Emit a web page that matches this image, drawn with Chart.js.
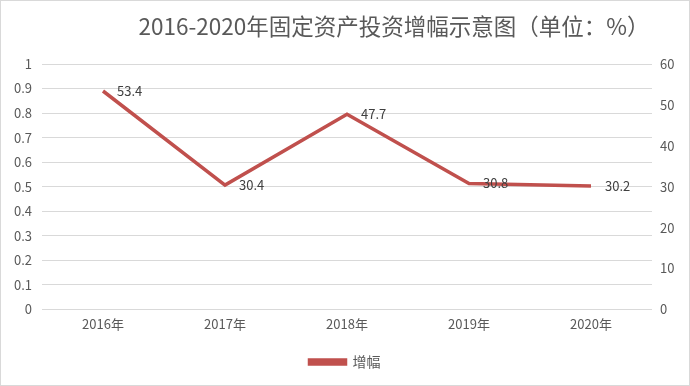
<!DOCTYPE html>
<html>
<head>
<meta charset="utf-8">
<script src="https://cdn.jsdelivr.net/npm/chart.js@4/dist/chart.umd.min.js"></script>
<style>
  body { margin: 0; background: #fff; }
  #wrap { width: 688px; height: 384px; border: 1px solid #d9d9d9; }
</style>
</head>
<body>
<div id="wrap"><canvas id="growth_chart" width="688" height="384"></canvas></div>
<script>
const years = ['2016年', '2017年', '2018年', '2019年', '2020年'];
const growthValues = [53.4, 30.4, 47.7, 30.8, 30.2];
const leftTicks = [0, 0.1, 0.2, 0.3, 0.4, 0.5, 0.6, 0.7, 0.8, 0.9, 1];
const rightTicks = [0, 10, 20, 30, 40, 50, 60];

const FONT = '"Noto Sans CJK SC", "Noto Sans", sans-serif';
const TEXT = '#595959';

// labels to the right of each point
const pointLabels = {
    id: 'pointLabels',
    afterDatasetsDraw(chart) {
        const ctx = chart.ctx;
        const meta = chart.getDatasetMeta(0);
        ctx.save();
        ctx.font = '13px ' + FONT;
        ctx.fillStyle = '#404040';
        ctx.textBaseline = 'middle';
        ctx.textAlign = 'left';
        meta.data.forEach(function (pt, i) {
            ctx.fillText(String(growthValues[i]), pt.x + 14, pt.y);
        });
        ctx.restore();
    }
};

// title in the original sits right of centre
const shiftTitle = {
    id: 'shiftTitle',
    afterLayout(chart) {
        chart.titleBlock.left += 98;
    }
};

const ctx = document.getElementById('growth_chart').getContext('2d');
new Chart(ctx, {
    type: 'line',
    data: {
        labels: years,
        datasets: [{
            label: '增幅',
            data: growthValues,
            yAxisID: 'y1',
            borderColor: '#C0504D',
            backgroundColor: '#C0504D',
            borderWidth: 3.5,
            pointRadius: 0,
            tension: 0
        }]
    },
    options: {
        responsive: false,
        animation: false,
        layout: { padding: { left: 0, right: 0, top: 0, bottom: 6 } },
        plugins: {
            title: {
                display: true,
                text: '2016-2020年固定资产投资增幅示意图（单位：%）',
                color: TEXT,
                font: { family: FONT, size: 22.5, weight: 'normal' },
                padding: { top: 12, bottom: 24 },
                align: 'center'
            },
            legend: {
                position: 'bottom',
                labels: {
                    color: TEXT,
                    font: { family: FONT, size: 14 },
                    boxWidth: 36,
                    boxHeight: 4,
                    padding: 10
                }
            },
            tooltip: { enabled: false }
        },
        scales: {
            x: {
                offset: true,
                grid: { display: false, drawTicks: false },
                border: { display: false },
                afterFit(axis) { axis.height += 6; },
                ticks: { color: TEXT, font: { family: FONT, size: 13 }, padding: 7 }
            },
            y: {
                position: 'left',
                min: 0,
                max: 1,
                afterBuildTicks(axis) { axis.ticks = leftTicks.map(v => ({ value: v })); },
                afterFit(axis) { axis.width = 41; },
                grid: { color: '#d9d9d9', drawTicks: false },
                border: { display: false },
                ticks: {
                    color: TEXT,
                    font: { family: FONT, size: 13 },
                    padding: 10,
                    callback: v => String(Math.round(v * 10) / 10)
                }
            },
            y1: {
                position: 'right',
                min: 0,
                max: 60,
                afterBuildTicks(axis) { axis.ticks = rightTicks.map(v => ({ value: v })); },
                afterFit(axis) { axis.width = 37; },
                grid: { display: false, drawTicks: false },
                border: { display: false },
                ticks: { color: TEXT, font: { family: FONT, size: 13 }, padding: 8 }
            }
        }
    },
    plugins: [pointLabels, shiftTitle]
});
</script>
</body>
</html>
